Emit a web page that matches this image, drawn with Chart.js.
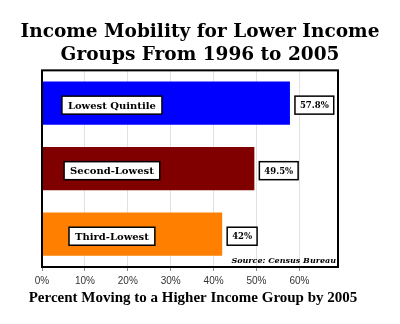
<!DOCTYPE html>
<html>
<head>
<meta charset="utf-8">
<script src="https://cdn.jsdelivr.net/npm/chart.js@4.4.1/dist/chart.umd.min.js"></script>
<style>
  html, body { margin: 0; padding: 0; background: #fff; }
  #wrap { width: 400px; height: 324px; }
</style>
</head>
<body>
<div id="wrap"><canvas id="mobilityChart" width="400" height="324"></canvas></div>
<script>
var categories = ['Lowest Quintile', 'Second-Lowest', 'Third-Lowest'];
var movedUp = [57.8, 49.5, 42];
var valueLabels = ['57.8%', '49.5%', '42%'];
var barColors = ['#0000ff', '#800000', '#ff8000'];
var tickValues = [0, 10, 20, 30, 40, 50, 60];
var xTitle = 'Percent Moving to a Higher Income Group by 2005';

var serif = "'DejaVu Serif', Georgia, serif";
var narrowSerif = "'Liberation Serif', 'Times New Roman', serif";

// white boxed labels, frame, source note and x title
var boxLabels = {
    id: 'boxLabels',
    afterDatasetsDraw: function (chart) {
        var ctx = chart.ctx;
        var area = chart.chartArea;
        var meta = chart.getDatasetMeta(0);
        var xScale = chart.scales.x;

        function drawBox(text, x, y, align, font, padX) {
            ctx.save();
            ctx.font = font;
            var w = ctx.measureText(text).width + padX * 2;
            var h = 18;
            var left = align === 'center' ? x - w / 2 : x;
            ctx.fillStyle = '#fff';
            ctx.fillRect(left, y - h / 2, w, h);
            ctx.strokeStyle = '#000';
            ctx.lineWidth = 1.5;
            ctx.strokeRect(left, y - h / 2, w, h);
            ctx.fillStyle = '#000';
            ctx.textAlign = 'center';
            ctx.textBaseline = 'middle';
            ctx.fillText(text, left + w / 2, y + 1);
            ctx.restore();
        }

        meta.data.forEach(function (bar, i) {
            var cy = bar.y + 2;
            drawBox(categories[i], xScale.getPixelForValue(16.3), cy, 'center', 'bold 10px ' + serif, 6);
            drawBox(valueLabels[i], bar.x + 5, cy, 'left', 'bold 8.5px ' + serif, 5);
        });

        ctx.save();
        ctx.font = 'italic bold 8px ' + serif;
        ctx.fillStyle = '#000';
        ctx.textAlign = 'right';
        ctx.textBaseline = 'alphabetic';
        ctx.fillText('Source: Census Bureau', area.right - 2, area.bottom - 4);
        ctx.strokeStyle = '#000';
        ctx.lineWidth = 2;
        ctx.strokeRect(area.left, area.top, area.right - area.left, area.bottom - area.top);

        ctx.font = 'bold 15px ' + narrowSerif;
        ctx.textAlign = 'center';
        ctx.textBaseline = 'middle';
        ctx.fillText(xTitle, 193, 298);
        ctx.restore();
    }
};

var ctx = document.getElementById('mobilityChart').getContext('2d');
new Chart(ctx, {
    type: 'bar',
    data: {
        labels: categories,
        datasets: [{
            data: movedUp,
            backgroundColor: barColors,
            borderWidth: 0,
            categoryPercentage: 0.66,
            barPercentage: 1.0
        }]
    },
    options: {
        indexAxis: 'y',
        responsive: false,
        animation: false,
        layout: {
            padding: { left: 0, right: 0, top: 0, bottom: 33 }
        },
        plugins: {
            legend: { display: false },
            tooltip: { enabled: false },
            title: {
                display: true,
                text: ['Income Mobility for Lower Income', 'Groups From 1996 to 2005'],
                color: '#000',
                font: { family: serif, size: 18.5, weight: 'bold', lineHeight: 1.28 },
                padding: { top: 20, bottom: 3 }
            }
        },
        scales: {
            x: {
                min: 0,
                max: 69,
                afterBuildTicks: function (scale) {
                    scale.ticks = tickValues.map(function (v) { return { value: v }; });
                },
                ticks: {
                    color: '#333',
                    font: { family: 'Liberation Sans, Arial, sans-serif', size: 10 },
                    padding: 4,
                    maxRotation: 0,
                    callback: function (value) { return value + '%'; }
                },
                grid: {
                    color: '#e2e2e2',
                    tickColor: '#888',
                    tickLength: 4
                },
                border: { display: false }
            },
            y: {
                position: 'left',
                ticks: { display: false },
                grid: { display: false },
                border: { display: false },
                afterFit: function (scale) { scale.width = 42; }
            },
            yRight: {
                type: 'category',
                position: 'right',
                ticks: { display: false },
                grid: { display: false },
                border: { display: false },
                afterFit: function (scale) { scale.width = 62; }
            }
        }
    },
    plugins: [boxLabels]
});
</script>
</body>
</html>
